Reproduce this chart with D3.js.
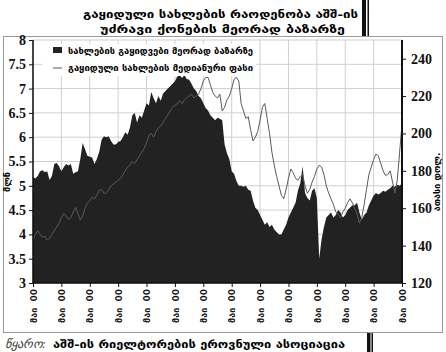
<!DOCTYPE html>
<html><head><meta charset="utf-8">
<script src="https://cdn.jsdelivr.net/npm/d3@7"></script>
<style>body{margin:0;background:#fff}</style>
</head><body>
<svg id="c" width="446" height="352"></svg>
<script>
// ---- data ----
const title1 = "გაყიდული სახლების რაოდენობა აშშ-ის";
const title2 = "უძრავი ქონების მეორად ბაზარზე";
const seriesNames = ["სახლების გაყიდვები მეორად ბაზარზე", "გაყიდული სახლების მედიანური ფასი"];
const leftLabel = "მლნ";
const rightLabel = "ათასი დოლ.";
const sourceLead = "წყარო:";
const sourceText = "აშშ-ის რიელტორების ეროვნული ასოციაცია";
const leftTicks = [3, 3.5, 4, 4.5, 5, 5.5, 6, 6.5, 7, 7.5, 8];
const rightTicks = [120, 140, 160, 180, 200, 220, 240];
const xTickLabels = ["მაი  00","მაი  00","მაი  00","მაი  00","მაი  00","მაი  00","მაი  00",
                     "მაი  00","მაი  00","მაი  00","მაი  00","მაი  00","მაი  00","მაი  00"];
// monthly existing-home sales, millions (May 2000 .. May 2013)
const sales = [
5.18,5.15,5.20,5.30,5.32,5.28,5.30,5.12,5.20,5.45,5.47,5.40,
5.30,5.38,5.45,5.42,5.45,5.25,5.28,5.30,5.55,5.88,5.75,5.62,
5.60,5.58,5.45,5.55,5.70,5.95,6.02,6.00,6.02,5.92,5.85,5.85,
5.90,5.92,6.00,6.10,6.05,6.20,6.45,6.50,6.30,6.45,6.40,6.55,
6.70,6.65,6.93,6.80,6.70,6.85,6.75,6.90,6.95,7.00,7.05,7.10,
7.15,7.25,7.28,7.22,7.28,7.20,7.18,7.10,7.00,6.95,6.85,6.80,
6.70,6.60,6.55,6.45,6.40,6.35,6.40,6.38,6.35,5.85,5.67,5.55,
5.30,5.25,5.10,5.00,5.00,4.98,5.00,4.92,4.90,4.70,4.55,4.50,
4.40,4.30,4.20,4.25,4.15,4.20,4.10,4.05,4.00,4.00,4.10,4.20,
4.35,4.45,4.55,4.65,4.90,5.05,5.40,4.85,4.75,4.70,4.90,4.95,
4.75,3.50,3.90,4.15,4.35,4.40,4.45,4.35,4.40,4.50,4.45,4.35,
4.40,4.50,4.55,4.60,4.60,4.65,4.45,4.30,4.40,4.45,4.60,4.70,
4.80,4.85,4.82,4.85,4.90,4.88,4.92,4.95,5.00,4.98,5.02,5.00,5.05];
// monthly median price, thousand USD
const prices = [
143,146,148,146,144.5,145,143,144,146,148,150,152,
155,157,156,154,155,158,160.5,157,153.6,156,160,162.7,
164,166,165,167,169.6,170,168,168,170,172,173,174,
175,176,178,180,182,183,185,184,186,188,190,192,
195,199,200,198,201,203,204,206,208,210,212,214,
215,216,217.6,216,218,219,220,221,219,220,221,224,
228,230,230,226,222,220,219,221,212,214,218,220,
224,229,230,228,216,212,208,209,202,196,198,201,
207,214,216,208,200,190,183,177,172,167,165,170,
176,181,179,176,175,177,178,172,168,170,174,177,
181,183,182,178,172,168,165,162,158,157,155,158,
160,163,165,163,160,157,152,155,162,170,178,182,
186,189,188,184,180,177.6,178,180,174,168,175,190,205];

// ---- layout ----
const svg = d3.select("#c");
const L = 33, R = 402, T = 40, B = 283;
const x = d3.scaleLinear().domain([0, sales.length - 1]).range([L, R]);
const yL = d3.scaleLinear().domain([3, 8]).range([B, T]);
const yR = d3.scaleLinear().domain([120, 250]).range([B, T]);
const georgian = "'DejaVu Sans', sans-serif";
const serif = "'Liberation Serif', 'Times New Roman', serif";

// outer frame
svg.append("rect").attr("x", 3.5).attr("y", 36.5).attr("width", 439).attr("height", 296)
  .attr("fill", "#fff").attr("stroke", "#9a9a9a");

// decorative bars
svg.append("rect").attr("x", 362).attr("y", 0).attr("width", 4).attr("height", 36).attr("fill", "#111");
svg.append("rect").attr("x", 367.5).attr("y", 0).attr("width", 1.5).attr("height", 36).attr("fill", "#111");
svg.append("rect").attr("x", 367).attr("y", 333).attr("width", 3.5).attr("height", 19).attr("fill", "#111");
svg.append("rect").attr("x", 371.5).attr("y", 333).attr("width", 1.5).attr("height", 19).attr("fill", "#111");

// title
svg.append("text").attr("x", 83).attr("y", 18).attr("textLength", 275).attr("lengthAdjust", "spacingAndGlyphs")
  .style("font-family", georgian).style("font-weight", "bold").style("font-size", "11px").text(title1);
svg.append("text").attr("x", 100).attr("y", 33).attr("textLength", 245).attr("lengthAdjust", "spacingAndGlyphs")
  .style("font-family", georgian).style("font-weight", "bold").style("font-size", "11px").text(title2);

// gridlines
const tickIdx = d3.range(xTickLabels.length).map(i => i * (sales.length - 1) / (xTickLabels.length - 1));
svg.append("g").selectAll("line").data(leftTicks).join("line")
  .attr("x1", L).attr("x2", R).attr("y1", d => yL(d)).attr("y2", d => yL(d))
  .attr("stroke", "#cfcfcf").attr("stroke-width", 1);
svg.append("g").selectAll("line").data(tickIdx).join("line")
  .attr("x1", d => x(d)).attr("x2", d => x(d)).attr("y1", T).attr("y2", B)
  .attr("stroke", "#cfcfcf").attr("stroke-width", 1);

// area
svg.append("path").datum(sales)
  .attr("d", d3.area().x((d, i) => x(i)).y0(B).y1(d => yL(d)))
  .attr("fill", "#222");
// line
svg.append("path").datum(prices)
  .attr("d", d3.line().x((d, i) => x(i)).y(d => yR(d)))
  .attr("fill", "none").attr("stroke", "#5a5a5a").attr("stroke-width", 1);

// axes
const axL = svg.append("g").attr("transform", `translate(${L},0)`)
  .call(d3.axisLeft(yL).tickValues(leftTicks).tickSize(4).tickPadding(3).tickFormat(d => String(d)));
const axR = svg.append("g").attr("transform", `translate(${R},0)`)
  .call(d3.axisRight(yR).tickValues(rightTicks).tickSize(4).tickPadding(5));
const axB = svg.append("g").attr("transform", `translate(0,${B})`)
  .call(d3.axisBottom(x).tickValues(tickIdx).tickSize(4).tickFormat((d, i) => xTickLabels[i]));
[axL, axR, axB].forEach(a => {
  a.select(".domain").attr("stroke", "#111").attr("stroke-width", 1.5);
  a.selectAll(".tick line").attr("stroke", "#111");
});
axL.select(".domain").attr("d", `M0,${T}V${B}`);
axR.select(".domain").attr("d", `M0,${T}V${B}`).attr("stroke-width", 2);
axB.select(".domain").attr("d", `M${L},0H${R}`);
[axL, axR].forEach(a => a.selectAll("text")
  .style("font-family", serif).style("font-weight", "bold").style("font-size", "14px").attr("fill", "#111"));
axB.selectAll("text")
  .attr("transform", "rotate(-90)").attr("x", -6).attr("y", 0).attr("dy", "0.35em")
  .style("text-anchor", "end").style("white-space", "pre")
  .style("font-family", georgian).style("font-weight", "bold").style("font-size", "9px").attr("fill", "#111");

// axis titles
svg.append("text").attr("transform", "translate(10,182) rotate(-90)").attr("text-anchor", "middle")
  .style("font-family", georgian).style("font-weight", "bold").style("font-size", "9px").text(leftLabel);
svg.append("text").attr("transform", "translate(440,182) rotate(-90)").attr("text-anchor", "middle")
  .style("font-family", georgian).style("font-weight", "bold").style("font-size", "9px").text(rightLabel);

// legend
const lg = svg.append("g");
lg.append("rect").attr("x", 42).attr("y", 44).attr("width", 214).attr("height", 32).attr("fill", "#fff");
lg.append("rect").attr("x", 53).attr("y", 47).attr("width", 9).attr("height", 6).attr("fill", "#222");
lg.append("line").attr("x1", 53).attr("x2", 62).attr("y1", 68).attr("y2", 68).attr("stroke", "#5a5a5a");
lg.selectAll("text.lt").data(seriesNames).join("text").attr("class", "lt")
  .attr("x", 68).attr("y", (d, i) => 54 + i * 17).attr("textLength", 185).attr("lengthAdjust", "spacingAndGlyphs")
  .style("font-family", georgian).style("font-weight", "bold").style("font-size", "9px").text(d => d);

// source
svg.append("text").attr("x", 5).attr("y", 348)
  .style("font-family", serif).style("font-style", "italic").style("font-size", "12px").attr("fill", "#333").text(sourceLead);
svg.append("text").attr("x", 53).attr("y", 348).attr("textLength", 292).attr("lengthAdjust", "spacingAndGlyphs")
  .style("font-family", georgian).style("font-weight", "bold").style("font-size", "11px").text(sourceText);
</script>
</body></html>
